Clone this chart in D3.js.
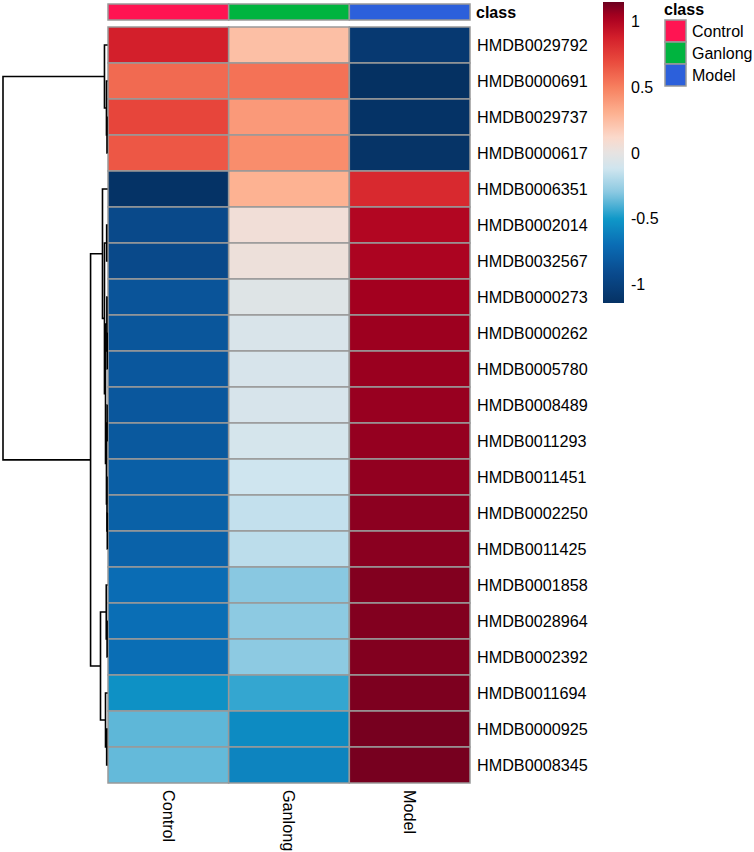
<!DOCTYPE html>
<html>
<head>
<meta charset="utf-8">
<script src="https://cdn.jsdelivr.net/npm/d3@7"></script>
<style>
  body { margin: 0; background: #fff; }
  text { font-family: "Liberation Sans", Arial, sans-serif; fill: #000; }
</style>
</head>
<body>
<svg id="chart"></svg>
<script>
// row order as displayed (after clustering)
const rowNames = [
  'HMDB0029792', 'HMDB0000691', 'HMDB0029737', 'HMDB0000617', 'HMDB0006351',
  'HMDB0002014', 'HMDB0032567', 'HMDB0000273', 'HMDB0000262', 'HMDB0005780',
  'HMDB0008489', 'HMDB0011293', 'HMDB0011451', 'HMDB0002250', 'HMDB0011425',
  'HMDB0001858', 'HMDB0028964', 'HMDB0002392', 'HMDB0011694', 'HMDB0000925',
  'HMDB0008345'
];
const columns = ['Control', 'Ganlong', 'Model'];

// row-scaled values
const controlVals = [0.88, 0.58, 0.72, 0.65, -1.13, -0.93, -0.93, -0.85, -0.84, -0.83,
  -0.83, -0.82, -0.78, -0.77, -0.76, -0.70, -0.69, -0.69, -0.53, -0.37, -0.36];
const ganlongVals = [0.24, 0.55, 0.40, 0.45, 0.30, 0.06, 0.04, -0.04, -0.07, -0.08,
  -0.08, -0.09, -0.12, -0.15, -0.17, -0.30, -0.29, -0.29, -0.44, -0.56, -0.59];
const modelVals = [-1.07, -1.15, -1.13, -1.12, 0.84, 1.00, 1.02, 1.05, 1.06, 1.065,
  1.07, 1.075, 1.08, 1.09, 1.095, 1.11, 1.11, 1.11, 1.12, 1.13, 1.13];

const classColors = ['#FF1452', '#00B43F', '#2C60DB'];

const legendTicks = [1, 0.5, 0, -0.5, -1];
const paletteStops = [-1.155, -0.9, -0.7, -0.5, -0.3, -0.12, 0, 0.12, 0.3, 0.5, 0.7, 0.88,
  1.0, 1.05, 1.09, 1.12, 1.155];
const paletteColors = ['#053061', '#0a4c90', '#0a6cb4', '#0f98c8', '#89c8e1', '#cfe5ef', '#e6e3e2',
  '#fbd9cb', '#fdb292', '#f7805f', '#e94a3d', '#d31f2b', '#b20622', '#a3001f', '#8c0020',
  '#7d001f', '#67001f'];

// row dendrogram: [height, left, right], leaves are row indices
const rowTree = [10,
  [0.29, 0, [0.1, 1, [0.05, 2, 3]]],
  [1.62,
    [0.48, 4,
      [0.29, [0.08, 5, 6],
        [0.19, [0.06, 7, [0.03, 8, 9]], [0.1, [0.04, 10, 11], [0.05, 12, [0.02, 13, 14]]]]]],
    [0.67,
      [0.12, 15, [0.04, 16, 17]],
      [0.19, 18, [0.08, 19, 20]]]]
];

const width = 754, height = 852;
const svg = d3.select('#chart').attr('width', width).attr('height', height);

const x = d3.scaleBand().domain(columns).range([108, 470]);
const y = d3.scaleBand().domain(rowNames).range([27, 783]);
const color = d3.scaleLinear().domain(paletteStops).range(paletteColors).clamp(true);
const borderColor = '#999999';

// heatmap cells
const cells = [];
rowNames.forEach((r, i) => {
  cells.push({row: r, col: 'Control', v: controlVals[i]});
  cells.push({row: r, col: 'Ganlong', v: ganlongVals[i]});
  cells.push({row: r, col: 'Model', v: modelVals[i]});
});

svg.append('g')
  .selectAll('rect')
  .data(cells)
  .join('rect')
    .attr('x', d => x(d.col))
    .attr('y', d => y(d.row))
    .attr('width', x.bandwidth())
    .attr('height', y.bandwidth())
    .attr('fill', d => color(d.v))
    .attr('stroke', borderColor)
    .attr('stroke-width', 1.5);

// class annotation bar
svg.append('g')
  .selectAll('rect')
  .data(columns)
  .join('rect')
    .attr('x', d => x(d))
    .attr('y', 4)
    .attr('width', x.bandwidth())
    .attr('height', 16)
    .attr('fill', (d, i) => classColors[i])
    .attr('stroke', borderColor)
    .attr('stroke-width', 1.5);

svg.append('text')
  .attr('x', 476)
  .attr('y', 12)
  .attr('dy', '0.35em')
  .style('font-size', '16px')
  .style('font-weight', 'bold')
  .text('class');

// row labels
svg.append('g')
  .selectAll('text')
  .data(rowNames)
  .join('text')
    .attr('x', 477)
    .attr('y', d => y(d) + y.bandwidth() / 2)
    .attr('dy', '0.35em')
    .style('font-size', '16.2px')
    .text(d => d);

// column labels, rotated
svg.append('g')
  .selectAll('text')
  .data(columns)
  .join('text')
    .attr('transform', d => `translate(${x(d) + x.bandwidth() / 2},790) rotate(90)`)
    .attr('dy', '0.35em')
    .style('font-size', '16.2px')
    .text(d => d);

// dendrogram
const dx = d3.scaleLinear().domain([0, 10]).range([107.5, 3]);
const dendro = svg.append('g')
  .attr('fill', 'none')
  .attr('stroke', '#000')
  .attr('stroke-width', 1.6);

function layout(node) {
  if (typeof node === 'number') {
    return {x: dx(0), y: y(rowNames[node]) + y.bandwidth() / 2};
  }
  const [h, l, r] = node;
  const a = layout(l), b = layout(r);
  const nx = dx(h);
  dendro.append('path')
    .attr('d', `M${a.x},${a.y}H${nx}V${b.y}H${b.x}`);
  return {x: nx, y: (a.y + b.y) / 2};
}
layout(rowTree);

// colour key
const ly = d3.scaleLinear().domain([-1.14, 1.15]).range([303, 2]);
const grad = svg.append('defs').append('linearGradient')
  .attr('id', 'key')
  .attr('x1', 0).attr('y1', 1).attr('x2', 0).attr('y2', 0);
d3.range(0, 1.0001, 0.01).forEach(t => {
  const v = ly.invert(303 - t * 301);
  grad.append('stop').attr('offset', t).attr('stop-color', color(v));
});
svg.append('rect')
  .attr('x', 603)
  .attr('y', ly(1.15))
  .attr('width', 21)
  .attr('height', ly(-1.14) - ly(1.15))
  .attr('fill', 'url(#key)');

svg.append('g')
  .selectAll('text')
  .data(legendTicks)
  .join('text')
    .attr('x', 631)
    .attr('y', d => ly(d))
    .attr('dy', '0.35em')
    .style('font-size', '16px')
    .text(d => d);

// class legend
svg.append('text')
  .attr('x', 664)
  .attr('y', 9)
  .attr('dy', '0.35em')
  .style('font-size', '16px')
  .style('font-weight', 'bold')
  .text('class');

const leg = svg.append('g');
leg.selectAll('rect')
  .data(columns)
  .join('rect')
    .attr('x', 665)
    .attr('y', (d, i) => 20 + i * 22)
    .attr('width', 21)
    .attr('height', 22)
    .attr('fill', (d, i) => classColors[i])
    .attr('stroke', borderColor)
    .attr('stroke-width', 1.5);
leg.selectAll('text')
  .data(columns)
  .join('text')
    .attr('x', 692)
    .attr('y', (d, i) => 31 + i * 22)
    .attr('dy', '0.35em')
    .style('font-size', '16px')
    .text(d => d);
</script>
</body>
</html>
